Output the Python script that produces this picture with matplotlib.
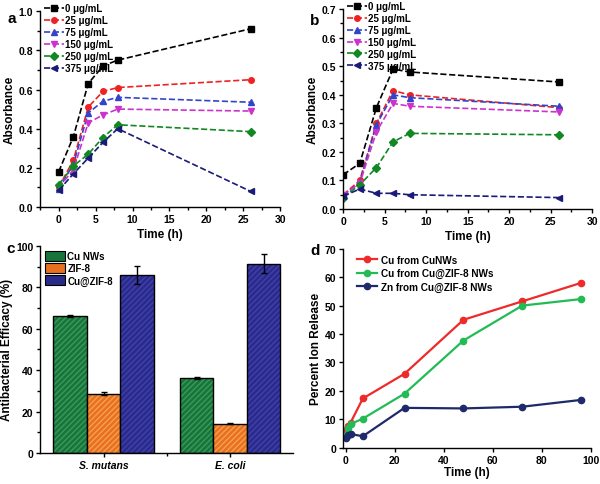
import matplotlib
matplotlib.use("Agg")
import matplotlib.pyplot as plt
import numpy as np
from matplotlib.ticker import MultipleLocator, FormatStrFormatter, FixedLocator
from matplotlib.patches import Patch

plt.rcParams['font.family'] = ['Liberation Sans', 'DejaVu Sans']
plt.rcParams['font.weight'] = 'bold'
plt.rcParams['axes.labelweight'] = 'bold'
plt.rcParams['axes.linewidth'] = 1.0
plt.rcParams['xtick.direction'] = 'out'
plt.rcParams['ytick.direction'] = 'out'

# panel a / b data
tiempos = [0, 2, 4, 6, 8, 26]
concentraciones = ['0 μg/mL', '25 μg/mL', '75 μg/mL', '150 μg/mL', '250 μg/mL', '375 μg/mL']
abs_a = [[0.18, 0.36, 0.63, 0.72, 0.75, 0.91],
         [0.10, 0.24, 0.51, 0.59, 0.61, 0.65],
         [0.09, 0.22, 0.48, 0.54, 0.56, 0.535],
         [0.10, 0.19, 0.43, 0.47, 0.50, 0.49],
         [0.115, 0.21, 0.27, 0.355, 0.42, 0.385],
         [0.085, 0.17, 0.25, 0.33, 0.40, 0.08]]
abs_b = [[0.12, 0.16, 0.355, 0.49, 0.48, 0.445],
         [0.05, 0.10, 0.30, 0.415, 0.40, 0.355],
         [0.045, 0.095, 0.295, 0.40, 0.39, 0.36],
         [0.05, 0.09, 0.27, 0.37, 0.36, 0.34],
         [0.04, 0.085, 0.145, 0.235, 0.265, 0.26],
         [0.045, 0.07, 0.055, 0.055, 0.05, 0.04]]
colores_ab = ['#000000', '#ee2222', '#3344cc', '#cc33cc', '#118822', '#1a1a7a']
marcadores = ['s', 'o', '^', 'v', 'D', '<']

# panel c data
bacterias = ['S. mutans', 'E. coli']
materiales = ['Cu NWs', 'ZIF-8', 'Cu@ZIF-8']
eficacia = [[66.2, 36.3], [28.7, 14.2], [86.0, 91.3]]
error = [[0.6, 0.4], [0.7, 0.4], [4.3, 4.6]]
colores_c = ['#17743a', '#e8701f', '#2a2a88']
rayas_c = ['#3a9a5a', '#f5a050', '#4040b0']

# panel d data
horas = [0, 1, 2, 7, 24, 48, 72, 96]
cu_nws = [6.3, 7.5, 8.8, 17.3, 26.0, 45.0, 51.5, 58.0]
cu_zif = [4.5, 7.0, 8.3, 10.2, 19.0, 37.7, 50.0, 52.3]
zn_zif = [3.5, 4.5, 4.8, 4.0, 14.0, 13.8, 14.4, 16.8]
series_d = ['Cu from CuNWs', 'Cu from Cu@ZIF-8 NWs', 'Zn from Cu@ZIF-8 NWs']
colores_d = ['#ee2a2a', '#22bb55', '#1f2a6b']

fig = plt.figure(figsize=(6, 4.85), dpi=100)


def estilo(ax):
    ax.spines['top'].set_visible(False)
    ax.spines['right'].set_visible(False)
    ax.tick_params(labelsize=7.5, width=1, length=3, pad=2)
    ax.tick_params(which='minor', width=1, length=2)
    for t in ax.get_xticklabels() + ax.get_yticklabels():
        t.set_fontweight('bold')


def panel_absorbancia(ax, datos, ylim, ymayor):
    for i in range(len(datos)):
        ax.plot(tiempos, datos[i], linestyle='--', color=colores_ab[i], marker=marcadores[i],
                markersize=4, linewidth=1.2, label=concentraciones[i])
    ax.set_ylim(*ylim)
    ax.yaxis.set_major_locator(MultipleLocator(ymayor))
    ax.yaxis.set_minor_locator(MultipleLocator(ymayor / 2))
    ax.yaxis.set_major_formatter(FormatStrFormatter('%.1f'))
    ax.xaxis.set_major_locator(MultipleLocator(5))
    ax.xaxis.set_minor_locator(MultipleLocator(2.5))
    ax.set_xlabel("Time (h)", fontsize=8.5, labelpad=3)
    ax.set_ylabel("Absorbance", fontsize=8.5, labelpad=2)
    ax.legend(loc='upper left', frameon=False, labelspacing=0.2,
              handlelength=2.0, handletextpad=0.2, borderaxespad=0.0,
              bbox_to_anchor=(0.0, 1.06), prop={'weight': 'bold', 'size': 7})
    estilo(ax)


ax_a = fig.add_axes([0.067, 0.571, 0.40, 0.404])
panel_absorbancia(ax_a, abs_a, (0, 1.0), 0.2)
ax_a.set_xlim(-2.5, 30)

ax_b = fig.add_axes([0.572, 0.567, 0.415, 0.412])
panel_absorbancia(ax_b, abs_b, (0, 0.7), 0.1)
ax_b.set_xlim(0, 30)

# panel c
ax_c = fig.add_axes([0.067, 0.064, 0.422, 0.427])
x = np.arange(1, len(bacterias) + 1)
ancho = 0.265
for i in range(len(materiales)):
    pos = x + (i - 1) * ancho
    ax_c.bar(pos, eficacia[i], ancho, color=colores_c[i], edgecolor=rayas_c[i],
             hatch='//////', linewidth=0)
    ax_c.bar(pos, eficacia[i], ancho, color='none', edgecolor='black', linewidth=1.0)
    ax_c.errorbar(pos, eficacia[i], yerr=error[i], fmt='none', ecolor='black',
                  elinewidth=1, capsize=2.5, capthick=1)
proxies = [Patch(facecolor=colores_c[i], edgecolor='black', linewidth=0.8) for i in range(3)]
ax_c.legend(proxies, materiales, loc='upper left', frameon=False,
            labelspacing=0.2, handlelength=2.0, handleheight=1.2, handletextpad=0.3,
            borderaxespad=0.1, bbox_to_anchor=(0.0, 1.0), prop={'weight': 'bold', 'size': 7})
ax_c.set_xlim(0.5, 2.5)
ax_c.set_ylim(0, 100)
ax_c.set_xticks(x)
ax_c.set_xticklabels(bacterias)
ax_c.xaxis.set_minor_locator(FixedLocator([1.5]))
ax_c.yaxis.set_major_locator(MultipleLocator(20))
ax_c.yaxis.set_minor_locator(MultipleLocator(10))
ax_c.set_ylabel("Antibacterial Efficacy (%)", fontsize=8.5, labelpad=2)
estilo(ax_c)
for t in ax_c.get_xticklabels():
    t.set_fontstyle('italic')

# panel d
ax_d = fig.add_axes([0.572, 0.075, 0.413, 0.41])
for datos, nombre, col in zip([cu_nws, cu_zif, zn_zif], series_d, colores_d):
    ax_d.plot(horas, datos, color=col, marker='o', markersize=4.5, linewidth=1.6, label=nombre)
ax_d.set_xlim(-1, 100)
ax_d.set_ylim(0, 70)
ax_d.xaxis.set_major_locator(MultipleLocator(20))
ax_d.yaxis.set_major_locator(MultipleLocator(10))
ax_d.set_xlabel("Time (h)", fontsize=8.5, labelpad=1)
ax_d.set_ylabel("Percent Ion Release", fontsize=8.5, labelpad=2)
ax_d.legend(loc='upper left', frameon=False, labelspacing=0.35, handlelength=2.0,
            handletextpad=0.4, borderaxespad=0.2, bbox_to_anchor=(0.03, 1.0),
            prop={'weight': 'bold', 'size': 7.2})
estilo(ax_d)

# panel letters
fig.text(0.013, 0.975, 'a', fontsize=11, fontweight='bold', va='top')
fig.text(0.517, 0.972, 'b', fontsize=11, fontweight='bold', va='top')
fig.text(0.010, 0.500, 'c', fontsize=11, fontweight='bold', va='top')
fig.text(0.518, 0.497, 'd', fontsize=11, fontweight='bold', va='top')

plt.savefig("out.png", dpi=100)
